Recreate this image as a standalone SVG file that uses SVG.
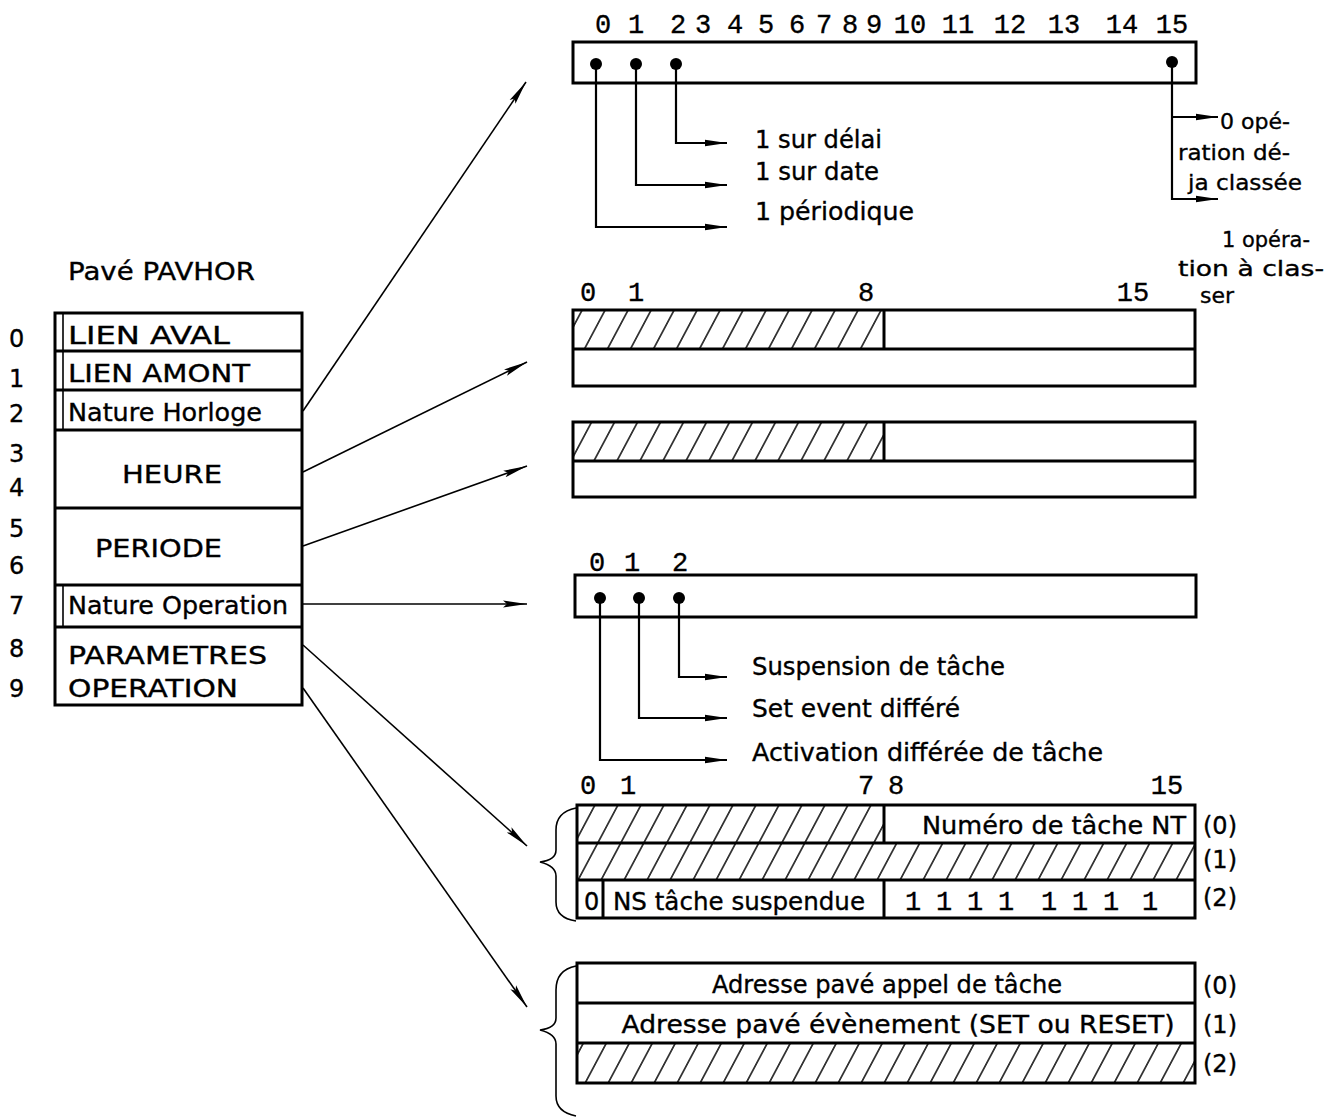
<svg xmlns="http://www.w3.org/2000/svg" width="1340" height="1117" viewBox="0 0 1340 1117">
<defs>
<style>
.t{font-family:"DejaVu Sans","Liberation Sans",sans-serif;font-size:24px;fill:#000;stroke:#000;stroke-width:0.35}
.m{font-family:"Liberation Mono","DejaVu Sans Mono",monospace;font-size:27px;fill:#000;stroke:#000;stroke-width:0.35}
.box{fill:#fff;stroke:#000;stroke-width:3}
.ln{fill:none;stroke:#000;stroke-width:3}
.thin{fill:none;stroke:#000;stroke-width:2.2}
.con{fill:none;stroke:#000;stroke-width:1.6}
.hatch{fill:url(#h);stroke:none}
</style>
<pattern id="h" patternUnits="userSpaceOnUse" width="23" height="40" patternTransform="skewX(-28)">
<line x1="11" y1="-1" x2="11" y2="41" stroke="#000" stroke-width="1.6"/>
</pattern>
<marker id="a" markerUnits="userSpaceOnUse" markerWidth="26" markerHeight="9" refX="24" refY="4.5" orient="auto">
<path d="M0,1 L24,4.5 L0,8 L4,4.5 z" fill="#000"/>
</marker>
<marker id="b" markerUnits="userSpaceOnUse" markerWidth="24" markerHeight="8" refX="22" refY="4" orient="auto">
<path d="M0,0.8 L22,4 L0,7.2 z" fill="#000"/>
</marker>
</defs>

<g id="pavhor">
<text class="t" x="68" y="280" textLength="187" lengthAdjust="spacingAndGlyphs">Pavé PAVHOR</text>
<rect class="box" x="55" y="313" width="247" height="392"/>
<g class="ln">
<line x1="55" y1="351" x2="302" y2="351"/>
<line x1="55" y1="390" x2="302" y2="390"/>
<line x1="55" y1="430" x2="302" y2="430"/>
<line x1="55" y1="508" x2="302" y2="508"/>
<line x1="55" y1="585" x2="302" y2="585"/>
<line x1="55" y1="627" x2="302" y2="627"/>
</g>
<g class="con">
<line x1="63" y1="313" x2="63" y2="430"/>
<line x1="63" y1="585" x2="63" y2="627"/>
</g>
<g class="t" style="font-size:24px">
<text x="9" y="347">0</text>
<text x="9" y="387">1</text>
<text x="9" y="422">2</text>
<text x="9" y="462">3</text>
<text x="9" y="496">4</text>
<text x="9" y="537">5</text>
<text x="9" y="574">6</text>
<text x="9" y="614">7</text>
<text x="9" y="657">8</text>
<text x="9" y="697">9</text>
</g>
<text class="t" x="68" y="344" textLength="162" lengthAdjust="spacingAndGlyphs">LIEN AVAL</text>
<text class="t" x="68" y="382" textLength="182" lengthAdjust="spacingAndGlyphs">LIEN AMONT</text>
<text class="t" x="68" y="421" textLength="194" lengthAdjust="spacingAndGlyphs">Nature Horloge</text>
<text class="t" x="122" y="483" textLength="100" lengthAdjust="spacingAndGlyphs">HEURE</text>
<text class="t" x="95" y="557" textLength="127" lengthAdjust="spacingAndGlyphs">PERIODE</text>
<text class="t" x="68" y="614" textLength="220" lengthAdjust="spacingAndGlyphs">Nature Operation</text>
<text class="t" x="68" y="664" textLength="199" lengthAdjust="spacingAndGlyphs">PARAMETRES</text>
<text class="t" x="68" y="697" textLength="170" lengthAdjust="spacingAndGlyphs">OPERATION</text>
</g>

<g id="reg-nature-horloge">
<g class="m" text-anchor="middle">
<text x="603" y="33">0</text><text x="636" y="33">1</text><text x="678" y="33">2</text><text x="703" y="33">3</text>
<text x="735" y="33">4</text><text x="766" y="33">5</text><text x="797" y="33">6</text><text x="824" y="33">7</text>
<text x="850" y="33">8</text><text x="874" y="33">9</text><text x="910" y="33">10</text><text x="958" y="33">11</text>
<text x="1010" y="33">12</text><text x="1064" y="33">13</text><text x="1122" y="33">14</text><text x="1172" y="33">15</text>
</g>
<rect class="box" x="573" y="42" width="623" height="41"/>
<circle cx="596" cy="64" r="6"/><circle cx="636" cy="64" r="6"/><circle cx="676" cy="64" r="6"/><circle cx="1172" cy="62" r="6"/>
<polyline class="thin" points="676,64 676,143 727,143" marker-end="url(#b)"/>
<polyline class="thin" points="636,64 636,185 727,185" marker-end="url(#b)"/>
<polyline class="thin" points="596,64 596,227 727,227" marker-end="url(#b)"/>
<polyline class="thin" points="1172,62 1172,199 1218,199" marker-end="url(#b)"/>
<line class="thin" x1="1172" y1="117" x2="1218" y2="117" marker-end="url(#b)"/>
<text class="t" x="755" y="148" textLength="127" lengthAdjust="spacingAndGlyphs">1 sur délai</text>
<text class="t" x="755" y="180" textLength="124" lengthAdjust="spacingAndGlyphs">1 sur date</text>
<text class="t" x="755" y="220" textLength="159" lengthAdjust="spacingAndGlyphs">1 périodique</text>
<g class="t" style="font-size:22px">
<text x="1220" y="129" textLength="70" lengthAdjust="spacingAndGlyphs">0 opé-</text>
<text x="1178" y="160" textLength="112" lengthAdjust="spacingAndGlyphs">ration dé-</text>
<text x="1188" y="190" textLength="114" lengthAdjust="spacingAndGlyphs">ja classée</text>
<text x="1222" y="247" textLength="88" lengthAdjust="spacingAndGlyphs">1 opéra-</text>
<text x="1178" y="276" textLength="146" lengthAdjust="spacingAndGlyphs">tion à clas-</text>
<text x="1200" y="303">ser</text>
</g>
</g>

<g id="reg-heure">
<g class="m" text-anchor="middle">
<text x="588" y="301">0</text><text x="636" y="301">1</text><text x="866" y="301">8</text><text x="1133" y="301">15</text>
</g>
<rect class="hatch" x="573" y="310" width="311" height="39"/>
<rect class="box" x="573" y="310" width="622" height="76" style="fill:none"/>
<line class="ln" x1="573" y1="349" x2="1195" y2="349"/>
<line class="ln" x1="884" y1="310" x2="884" y2="349"/>
</g>

<g id="reg-periode">
<rect class="hatch" x="573" y="422" width="311" height="39"/>
<rect class="box" x="573" y="422" width="622" height="75" style="fill:none"/>
<line class="ln" x1="573" y1="461" x2="1195" y2="461"/>
<line class="ln" x1="884" y1="422" x2="884" y2="461"/>
</g>

<g id="reg-nature-operation">
<g class="m" text-anchor="middle">
<text x="597" y="571">0</text><text x="632" y="571">1</text><text x="680" y="571">2</text>
</g>
<rect class="box" x="575" y="575" width="621" height="42"/>
<circle cx="600" cy="598" r="6"/><circle cx="639" cy="598" r="6"/><circle cx="679" cy="598" r="6"/>
<polyline class="thin" points="679,598 679,677 727,677" marker-end="url(#b)"/>
<polyline class="thin" points="639,598 639,718 727,718" marker-end="url(#b)"/>
<polyline class="thin" points="600,598 600,760 727,760" marker-end="url(#b)"/>
<text class="t" x="752" y="675" textLength="253" lengthAdjust="spacingAndGlyphs">Suspension de tâche</text>
<text class="t" x="752" y="717" textLength="208" lengthAdjust="spacingAndGlyphs">Set event différé</text>
<text class="t" x="752" y="761" textLength="351" lengthAdjust="spacingAndGlyphs">Activation différée de tâche</text>
</g>

<g id="reg-param-1">
<g class="m" text-anchor="middle">
<text x="588" y="794">0</text><text x="628" y="794">1</text><text x="866" y="794">7</text><text x="896" y="794">8</text><text x="1167" y="794">15</text>
</g>
<rect class="hatch" x="577" y="805" width="307" height="38"/>
<rect class="hatch" x="577" y="843" width="618" height="37"/>
<rect class="box" x="577" y="805" width="618" height="113" style="fill:none"/>
<g class="ln">
<line x1="577" y1="843" x2="1195" y2="843"/>
<line x1="577" y1="880" x2="1195" y2="880"/>
<line x1="884" y1="805" x2="884" y2="843"/>
<line x1="884" y1="880" x2="884" y2="918"/>
<line x1="603" y1="880" x2="603" y2="918"/>
</g>
<text class="t" x="1186" y="834" text-anchor="end" textLength="264" lengthAdjust="spacingAndGlyphs">Numéro de tâche NT</text>
<text class="t" x="584" y="910">0</text>
<text class="t" x="613" y="910" textLength="252" lengthAdjust="spacingAndGlyphs">NS tâche suspendue</text>
<g class="m" text-anchor="middle">
<text x="913" y="910">1</text><text x="944" y="910">1</text><text x="975" y="910">1</text><text x="1006" y="910">1</text>
<text x="1049" y="910">1</text><text x="1080" y="910">1</text><text x="1111" y="910">1</text><text x="1150" y="910">1</text>
</g>
<g class="t" style="font-size:24px">
<text x="1203" y="834">(0)</text><text x="1203" y="868">(1)</text><text x="1203" y="906">(2)</text>
</g>
<path class="con" d="M576,808 Q556,812 556,830 L556,850 Q556,860 540,862 Q556,866 556,876 L556,902 Q556,918 576,921"/>
</g>

<g id="reg-param-2">
<rect class="hatch" x="577" y="1043" width="618" height="40"/>
<rect class="box" x="577" y="963" width="618" height="120" style="fill:none"/>
<g class="ln">
<line x1="577" y1="1003" x2="1195" y2="1003"/>
<line x1="577" y1="1043" x2="1195" y2="1043"/>
</g>
<text class="t" x="887" y="993" text-anchor="middle" textLength="350" lengthAdjust="spacingAndGlyphs">Adresse pavé appel de tâche</text>
<text class="t" x="898" y="1033" text-anchor="middle" textLength="553" lengthAdjust="spacingAndGlyphs">Adresse pavé évènement (SET ou RESET)</text>
<g class="t" style="font-size:24px">
<text x="1203" y="994">(0)</text><text x="1203" y="1033">(1)</text><text x="1203" y="1072">(2)</text>
</g>
<path class="con" d="M576,966 Q556,970 556,990 L556,1018 Q556,1028 540,1030 Q556,1034 556,1044 L556,1096 Q556,1112 576,1116"/>
</g>

<g id="connectors" class="con">
<line x1="303" y1="411" x2="526" y2="82" marker-end="url(#a)"/>
<line x1="303" y1="472" x2="527" y2="362" marker-end="url(#a)"/>
<line x1="303" y1="546" x2="527" y2="466" marker-end="url(#a)"/>
<line x1="303" y1="604" x2="527" y2="604" marker-end="url(#a)"/>
<line x1="303" y1="645" x2="527" y2="846" marker-end="url(#a)"/>
<line x1="303" y1="688" x2="527" y2="1007" marker-end="url(#a)"/>
</g>
</svg>
